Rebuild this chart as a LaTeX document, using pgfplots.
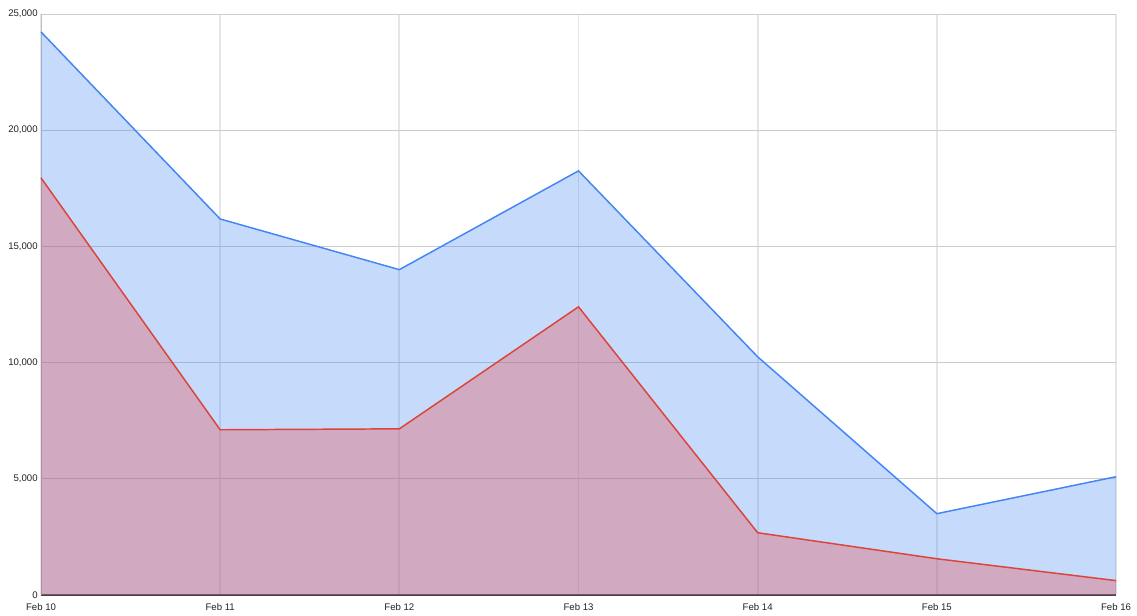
\documentclass[border=0pt]{standalone}
\usepackage{pgfplots}
\pgfplotsset{compat=1.18}
\usepackage{fontspec}
\setmainfont{Liberation Sans}

\definecolor{gblue}{HTML}{4285F4}
\definecolor{gred}{HTML}{DB4437}
\definecolor{redfill}{HTML}{E54E52}
\definecolor{hgrid}{HTML}{CCCCCC}
\definecolor{vgrid}{HTML}{E6E6E6}
\definecolor{txt}{HTML}{222222}

\pgfplotstableread{
x  blue   red
0  24230  17950
1  16180  7110
2  14000  7150
3  18250  12400
4  10250  2680
5  3500   1560
6  5090   620
}\visits

\begin{document}
\begin{tikzpicture}
  % page = 1137 x 615 px at 0.75pt per px
  \path[use as bounding box] (-30.75pt,-15pt) rectangle (822pt,446.25pt);
  \begin{axis}[
      at={(0,0)}, anchor=south west,
      scale only axis,
      width  = 806.25pt,
      height = 435.75pt,
      xmin=0, xmax=6,
      ymin=0, ymax=25000,
      xtick={0,...,6},
      xticklabels={Feb 10, Feb 11, Feb 12, Feb 13, Feb 14, Feb 15, Feb 16},
      ytick={0,5000,10000,15000,20000,25000},
      scaled y ticks=false,
      /pgf/number format/.cd, 1000 sep={,}, assume math mode=true, /pgfplots/.cd,
      tick label style={font=\fontsize{7.2}{8}\selectfont, text=txt},
      yticklabel style={xshift=1pt},
      xticklabel style={yshift=-2.5pt},
      major tick length=0pt,
      xmajorgrids, ymajorgrids,
      x grid style={vgrid, line width=1.3pt},
      y grid style={hgrid, line width=0.6pt},
      axis x line*=bottom,
      axis y line*=left,
      x axis line style={draw=black!75, line width=0.8pt, -},
      y axis line style={draw=black!25, line width=0.6pt, -},
      clip=false,
    ]
    % filled areas
    \addplot[draw=none, fill=gblue, fill opacity=0.3] table[x=x, y=blue] {\visits} \closedcycle;
    \addplot[draw=none, fill=redfill, fill opacity=0.35] table[x=x, y=red] {\visits} \closedcycle;
    % lines on top
    \addplot[gblue, line width=1.1pt, mark=none] table[x=x, y=blue] {\visits};
    \addplot[gred, line width=1.1pt, mark=none] table[x=x, y=red] {\visits};
  \end{axis}
\end{tikzpicture}
\end{document}
